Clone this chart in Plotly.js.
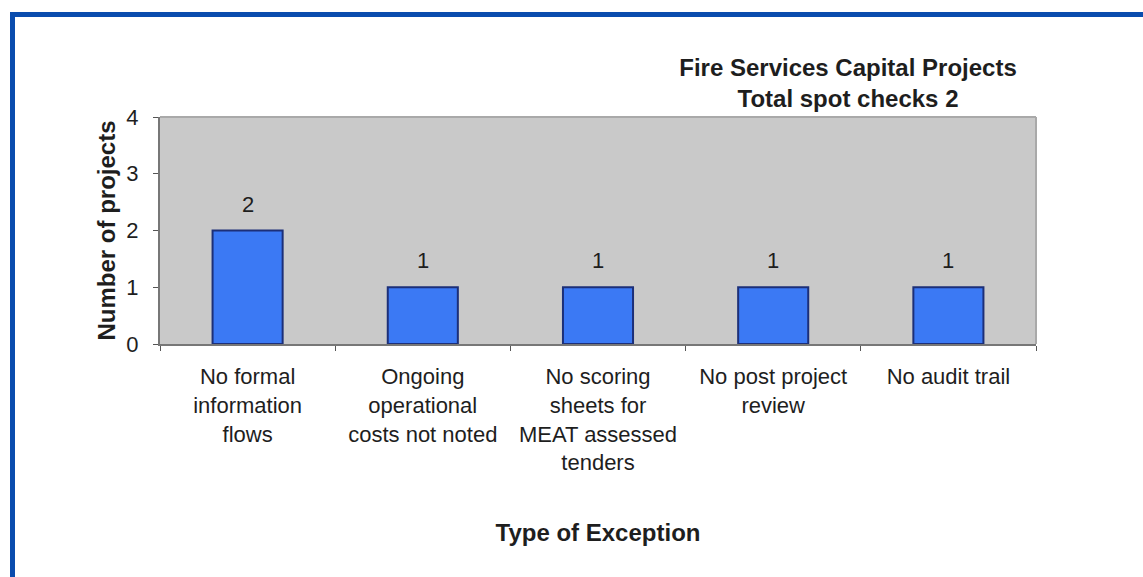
<!DOCTYPE html>
<html>
<head>
<meta charset="utf-8">
<script src="https://cdn.plot.ly/plotly-3.0.1.min.js"></script>
<style>
  html, body { margin: 0; padding: 0; background: #ffffff; }
  #wrap { position: relative; width: 1143px; height: 577px; overflow: hidden; }
  #chart { position: absolute; left: 0; top: 0; width: 1143px; height: 577px; }
  #frame { position: absolute; left: 10px; top: 12px; width: 1200px; height: 700px;
           border-top: 5px solid #0a4cae; border-left: 5px solid #0a4cae; pointer-events: none; }
</style>
</head>
<body>
<div id="wrap">
  <div id="chart"></div>
  <div id="frame"></div>
</div>
<script>
const categories = [
  "No formal<br>information<br>flows",
  "Ongoing<br>operational<br>costs not noted",
  "No scoring<br>sheets for<br>MEAT assessed<br>tenders",
  "No post project<br>review",
  "No audit trail"
];
const projects = [2, 1, 1, 1, 1];
const yTicks = [0, 1, 2, 3, 4];
const chartTitle = "Fire Services Capital Projects<br>Total spot checks 2";
const xTitle = "Type of Exception";
const yTitle = "Number of projects";

const FONT = "Liberation Sans, Arial, sans-serif";
const TXT = "#1e1e1e";

const trace = {
  type: "bar",
  x: categories,
  y: projects,
  marker: { color: "#3b79f4", line: { color: "#1c2f78", width: 2 } },
  hoverinfo: "skip"
};

const annotations = categories.map((c, i) => ({
  x: c, y: projects[i], xref: "x", yref: "y",
  text: String(projects[i]), showarrow: false,
  yanchor: "bottom", yshift: 12,
  font: { family: FONT, size: 22, color: TXT }
}));

const layout = {
  width: 1143, height: 577,
  margin: { l: 160, r: 107, t: 117, b: 233, pad: 0 },
  paper_bgcolor: "rgba(0,0,0,0)",
  plot_bgcolor: "#c9c9c9",
  bargap: 0.6,
  showlegend: false,
  title: {
    text: "<b>" + chartTitle + "</b>",
    font: { family: FONT, size: 24, color: TXT },
    xref: "container", yref: "container",
    x: 848 / 1143, xanchor: "center",
    y: 1 - 76 / 577, yanchor: "top"
  },
  xaxis: {
    type: "category",
    showgrid: false, zeroline: false,
    showline: true, linecolor: "#777777", linewidth: 2,
    ticks: "outside", tickson: "boundaries", ticklen: 5, tickcolor: "#555555", tickwidth: 1,
    ticklabelstandoff: 12,
    tickfont: { family: FONT, size: 22, color: TXT },
    title: { text: "<b>" + xTitle + "</b>", font: { family: FONT, size: 24, color: TXT }, standoff: 50 },
    automargin: false
  },
  yaxis: {
    range: [0, 4], tickvals: yTicks, ticktext: yTicks.map(String),
    showgrid: false, zeroline: false,
    showline: true, linecolor: "#777777", linewidth: 2,
    ticks: "outside", ticklen: 5, tickcolor: "#555555", tickwidth: 1,
    ticklabelstandoff: 10,
    tickfont: { family: FONT, size: 22, color: TXT },
    title: { text: "<b>" + yTitle + "</b>", font: { family: FONT, size: 24, color: TXT }, standoff: 4 },
    automargin: false
  },
  shapes: [
    { type: "line", xref: "paper", yref: "paper", x0: 0, x1: 1, y0: 1, y1: 1,
      line: { color: "#a9a9a9", width: 2 }, layer: "above" },
    { type: "line", xref: "paper", yref: "paper", x0: 1, x1: 1, y0: 0, y1: 1,
      line: { color: "#a9a9a9", width: 2 }, layer: "above" }
  ],
  annotations: annotations
};

Plotly.newPlot("chart", [trace], layout, { displayModeBar: false, staticPlot: true });
</script>
</body>
</html>
